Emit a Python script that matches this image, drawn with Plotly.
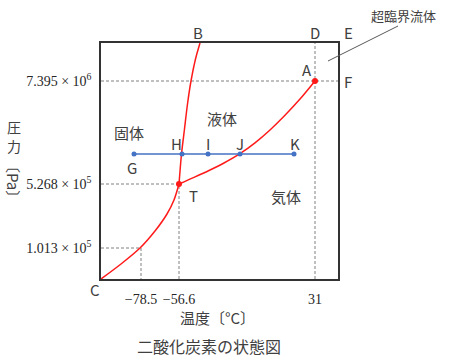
import plotly.graph_objects as go

# schematic (not-to-scale) coordinates of the phase diagram
sub_x = [0, 20, 39, 54, 66, 73, 78]              # C -> T  (sublimation curve)
sub_y = [0, 15, 31, 48, 65, 79, 95]
melt_x = [78, 80.5, 83.5, 86.5, 90, 94.5, 99]    # T -> B  (melting curve)
melt_y = [95, 125, 150, 175, 198, 220, 236]
vap_x = [78, 93, 108, 123, 139, 154, 169, 184, 199, 214]   # T -> A (vaporization curve)
vap_y = [95, 101.6, 108.5, 116, 125.3, 136.1, 149, 163.7, 179.9, 198]

triple = (78, 95)      # T
critical = (214, 198)  # A

path_labels = ["G", "H", "I", "J", "K"]
path_x = [33, 81, 107, 139, 193]
path_y = [125, 125, 125, 125, 125]

x_tick_pos = [40, 78, 214]
x_tick_text = ["\u221278.5", "\u221256.6", "31"]
y_tick_pos = [31, 95, 198]
y_tick_text = ["1.013 \u00d7 10<sup>5</sup>", "5.268 \u00d7 10<sup>5</sup>", "7.395 \u00d7 10<sup>6</sup>"]

XMAX, YMAX = 237, 236
L, T, R, B = 101, 43, 112, 82
W, H = 450, 361

JP = "Noto Sans CJK JP"
TXT = "#404040"
RED = "#ff1a1a"
BLUE = "#4472c4"
DASH = "#808080"


def px(xp, yp):
    """pixel position -> paper coordinates"""
    return (xp - L) / (W - L - R), (H - B - yp) / (H - T - B)


fig = go.Figure()


def dashed(xs, ys):
    fig.add_trace(go.Scatter(x=xs, y=ys, mode="lines", hoverinfo="skip",
                             line=dict(color=DASH, width=1, dash="3px,2px"), showlegend=False))


dashed([0, x_tick_pos[0], x_tick_pos[0]], [y_tick_pos[0], y_tick_pos[0], 0])
dashed([0, triple[0], triple[0]], [triple[1], triple[1], 0])
dashed([0, XMAX], [critical[1], critical[1]])
dashed([critical[0], critical[0]], [0, YMAX])

# phase boundaries
for xs, ys in [(sub_x, sub_y), (melt_x, melt_y), (vap_x, vap_y)]:
    fig.add_trace(go.Scatter(x=xs, y=ys, mode="lines",
                             line=dict(color=RED, width=1.5, shape="spline", smoothing=0.8),
                             hoverinfo="skip", showlegend=False))

# isobaric path G-K
fig.add_trace(go.Scatter(x=path_x, y=path_y, mode="lines+markers",
                         line=dict(color=BLUE, width=1.5), marker=dict(color=BLUE, size=5),
                         showlegend=False))

# T and A points
fig.add_trace(go.Scatter(x=[triple[0], critical[0]], y=[triple[1], critical[1]], mode="markers",
                         marker=dict(color=RED, size=6), showlegend=False))


def label(xp, yp, text, size=15, **kw):
    x, y = px(xp, yp)
    fig.add_annotation(x=x, y=y, xref="paper", yref="paper", text=text, showarrow=False,
                       xanchor="center", yanchor="middle",
                       font=dict(family=JP, size=size, color=TXT), **kw)


label(132, 167, "G")
label(176, 143, "H")
label(208, 143, "I")
label(240, 143, "J")
label(295, 143, "K")
label(193, 195, "T")
label(307, 69, "A")
label(198, 33, "B")
label(95, 289, "C")
label(315, 33, "D")
label(348, 33, "E")
label(348, 81, "F")

label(129, 132, "固体")
label(222, 118, "液体")
label(286, 196, "気体")
label(403, 15, "超臨界流体", size=13)

label(217, 317, "温度〔°C〕", size=15)
label(209, 346, "二酸化炭素の状態図", size=16)

label(14, 127, "圧", size=14)
label(14, 146, "力", size=14)
label(14, 181, "〔Pa〕", size=15, textangle=90)

# leader line for the supercritical fluid label
x0, y0 = px(328, 61)
x1, y1 = px(398, 26)
fig.add_shape(type="line", xref="paper", yref="paper", x0=x0, y0=y0, x1=x1, y1=y1,
              line=dict(color="#595959", width=1))

fig.update_layout(
    width=W, height=H,
    margin=dict(l=L, r=R, t=T, b=B),
    paper_bgcolor="white", plot_bgcolor="white",
    xaxis=dict(range=[0, XMAX], showgrid=False, zeroline=False, showline=True, mirror=True,
               linecolor="#333333", linewidth=1.5, tickmode="array", tickvals=x_tick_pos,
               ticktext=x_tick_text, ticks="", ticklabelstandoff=6,
               tickfont=dict(family="Liberation Serif", size=14, color="#262626")),
    yaxis=dict(range=[0, YMAX], showgrid=False, zeroline=False, showline=True, mirror=True,
               linecolor="#333333", linewidth=1.5, tickmode="array", tickvals=y_tick_pos,
               ticktext=y_tick_text, ticks="", ticklabelstandoff=5,
               tickfont=dict(family="Liberation Serif", size=14, color="#262626")),
)

fig.write_html("out.html", config={"displayModeBar": False},
               post_script="document.body.style.margin='0px';")
